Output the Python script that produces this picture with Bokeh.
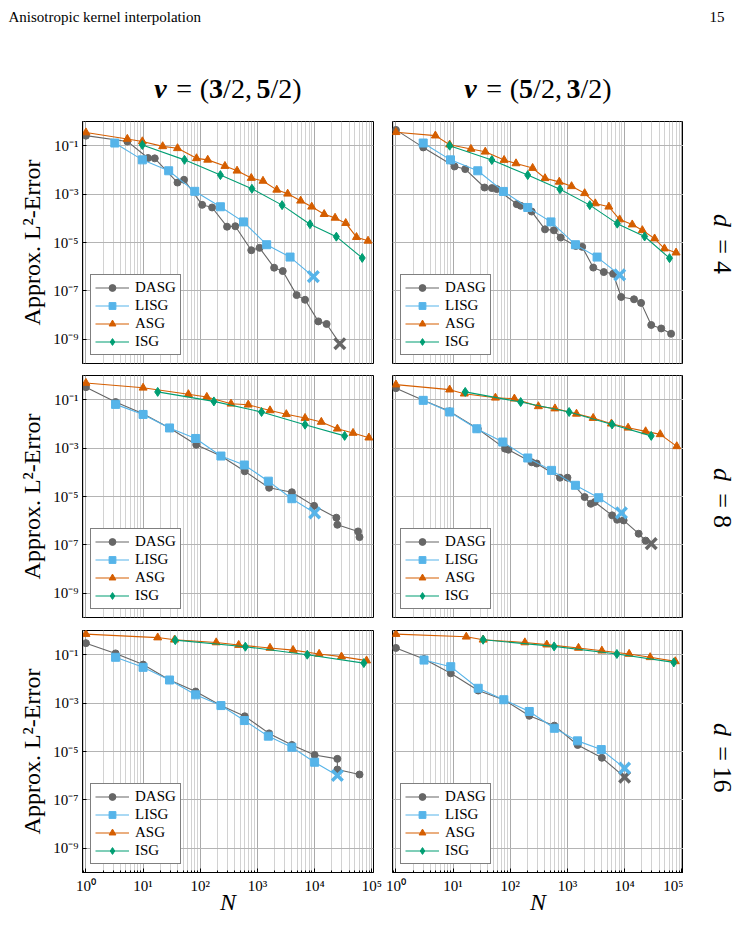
import math
from bokeh.plotting import figure
from bokeh.models import (FixedTicker, CustomJSTickFormatter, Label, Legend,
                          LegendItem, Range1d)
from bokeh.layouts import column, row
from bokeh.embed import file_html
from bokeh.resources import INLINE

# ---------------- data ----------------
SERIES = ["DASG", "LISG", "ASG", "ISG"]
TITLES = [("3", "5"), ("5", "3")]
ROW_LABELS = ["4", "8", "16"]
X_TICKS = [1, 10, 100, 1000, 10000, 100000]
Y_TICKS = [1e-1, 1e-3, 1e-5, 1e-7, 1e-9]

# d = 4, nu = (3/2, 5/2)
d4a_dasg_n = [1, 5.3, 12.2, 16, 40, 52, 108, 161, 294, 410, 780, 1090, 1960, 2770, 4850, 6800, 11600, 16200, 27600]
d4a_dasg_e = [0.26, 0.15, 0.031, 0.030, 0.0030, 0.0039, 3.6e-4, 2.8e-4, 4.5e-5, 4.7e-5, 4.8e-6, 6.0e-6, 9.1e-7, 6.6e-7, 6.7e-8, 4.3e-8, 5.5e-9, 4.3e-9, 6.6e-10]
d4a_lisg_n = [3.2, 9.7, 28, 80, 225, 570, 1450, 3720, 9500]
d4a_lisg_e = [0.129, 0.026, 0.0092, 0.0013, 3.0e-4, 7.1e-5, 8.1e-6, 2.5e-6, 3.9e-7]
d4a_asg_n = [1, 5.3, 9.7, 22, 40, 86, 135, 270, 440, 780, 1250, 2180, 3380, 5700, 8900, 14700, 22800, 35000, 54000, 86000]
d4a_asg_e = [0.35, 0.19, 0.15, 0.094, 0.078, 0.030, 0.026, 0.0144, 0.0092, 0.0046, 0.0035, 0.0015, 0.00103, 5.3e-4, 3.0e-4, 1.48e-4, 1.04e-4, 6.3e-5, 1.66e-5, 1.17e-5]
d4a_isg_n = [9.7, 53, 225, 800, 2700, 8300, 24000, 68000]
d4a_isg_e = [0.107, 0.026, 0.0061, 0.00166, 3.5e-4, 5.7e-5, 1.74e-5, 2.3e-6]

# d = 4, nu = (5/2, 3/2)
d4b_dasg_n = [1, 3.0, 10.6, 16.3, 35.5, 47.6, 58, 130, 152, 237, 405, 580, 760, 1400, 1810, 2830, 4320, 6300, 8720, 14600, 19400, 29200, 43700, 65000]
d4b_dasg_e = [0.45, 0.085, 0.0139, 0.0108, 0.00187, 0.00177, 0.00161, 3.85e-4, 3.3e-4, 1.9e-4, 3.5e-5, 3.2e-5, 1.6e-5, 7.2e-6, 6.6e-6, 9.2e-7, 6.0e-7, 5.1e-7, 5.6e-8, 4.5e-8, 3.2e-8, 3.9e-9, 2.8e-9, 1.7e-9]
d4b_lisg_n = [3.0, 9.0, 27, 76, 202, 515, 1380, 3300, 8200]
d4b_lisg_e = [0.129, 0.026, 0.0092, 0.00129, 2.8e-4, 7.1e-5, 8.1e-6, 2.5e-6, 4.6e-7]
d4b_asg_n = [1, 4.9, 8.7, 20.5, 36.5, 78, 126, 246, 405, 720, 1180, 2000, 3070, 5300, 8200, 13600, 20400, 33500, 49700, 79500]
d4b_asg_e = [0.36, 0.26, 0.11, 0.073, 0.056, 0.0255, 0.0185, 0.0119, 0.0045, 0.0032, 0.0021, 0.00108, 4.1e-4, 3.0e-4, 8.9e-5, 5.5e-5, 3.2e-5, 1.45e-5, 5.6e-6, 3.8e-6]
d4b_isg_n = [8.7, 47.6, 202, 740, 2460, 7440, 22400, 61000]
d4b_isg_e = [0.1, 0.0255, 0.0061, 0.0016, 3.5e-4, 6.0e-5, 1.77e-5, 2.25e-6]

# d = 8, nu = (3/2, 5/2)
d8a_dasg_n = [1, 3.3, 10, 29, 85, 230, 600, 1600, 4000, 9800, 24000, 25000, 57500, 61000]
d8a_dasg_e = [0.33, 0.080, 0.026, 0.0068, 0.00138, 4.7e-4, 1.1e-4, 2.3e-5, 1.5e-5, 4.1e-6, 1.33e-6, 6.8e-7, 3.6e-7, 2.1e-7]
d8a_lisg_n = [3.3, 10, 29, 83, 230, 590, 1550, 4000, 10000]
d8a_lisg_e = [0.064, 0.0246, 0.0068, 0.0025, 4.7e-4, 2.0e-4, 4.3e-5, 8.1e-6, 2.1e-6]
d8a_asg_n = [1, 10, 62, 130, 345, 690, 1660, 3200, 6800, 13100, 25000, 47000, 89000]
d8a_asg_e = [0.49, 0.31, 0.167, 0.129, 0.068, 0.062, 0.036, 0.025, 0.0174, 0.012, 0.0063, 0.0042, 0.0027]
d8a_isg_n = [18, 173, 1180, 6800, 33500]
d8a_isg_e = [0.21, 0.085, 0.031, 0.0093, 0.0032]

# d = 8, nu = (5/2, 3/2)
d8b_dasg_n = [1, 3.0, 8.7, 27, 81, 93, 237, 290, 740, 1000, 2000, 2560, 3000, 6040, 7400, 9600, 17600, 23300, 29200]
d8b_dasg_e = [0.30, 0.094, 0.033, 0.0063, 9.5e-4, 8.6e-4, 2.6e-4, 2.3e-4, 6.0e-5, 6.0e-5, 9.5e-6, 5.0e-6, 5.9e-6, 1.66e-6, 1.1e-6, 1.03e-6, 2.9e-7, 1.5e-7, 1.13e-7]
d8b_lisg_n = [3.0, 8.7, 26, 74, 202, 527, 1380, 3520, 8800]
d8b_lisg_e = [0.094, 0.031, 0.0063, 0.00178, 3.9e-4, 1.2e-4, 2.9e-5, 8.9e-6, 2.1e-6]
d8b_asg_n = [1, 8.7, 15.7, 55, 118, 310, 605, 1440, 2820, 5880, 11500, 23300, 42000, 81700]
d8b_asg_e = [0.42, 0.26, 0.177, 0.12, 0.11, 0.053, 0.043, 0.026, 0.0174, 0.0102, 0.0069, 0.0049, 0.0037, 0.00118]
d8b_isg_n = [16.3, 152, 1070, 6040, 29200]
d8b_isg_e = [0.21, 0.080, 0.031, 0.0095, 0.0032]

# d = 16, nu = (3/2, 5/2)
d16a_dasg_n = [1, 3.3, 10, 29, 83, 230, 600, 1600, 4000, 10000, 25000, 25000, 61000]
d16a_dasg_e = [0.30, 0.113, 0.039, 0.009, 0.0030, 7.9e-4, 2.85e-4, 5.6e-5, 1.86e-5, 7.2e-6, 4.96e-6, 1.8e-6, 1.12e-6]
d16a_lisg_n = [3.3, 10, 29, 83, 230, 590, 1550, 4000, 10000, 25000]
d16a_lisg_e = [0.078, 0.030, 0.009, 0.0022, 7.9e-4, 1.9e-4, 4.3e-5, 1.5e-5, 3.6e-6, 1.02e-6]
d16a_asg_n = [1, 18, 35.5, 190, 470, 1660, 4200, 12000, 29500, 81000]
d16a_asg_e = [0.71, 0.51, 0.415, 0.32, 0.25, 0.19, 0.155, 0.107, 0.083, 0.057]
d16a_isg_n = [36.5, 615, 7440, 72600]
d16a_isg_e = [0.40, 0.214, 0.10, 0.045]

# d = 16, nu = (5/2, 3/2)
d16b_dasg_n = [1, 3.1, 9.1, 27.5, 78.5, 215, 590, 1510, 4000, 10000]
d16b_dasg_e = [0.19, 0.066, 0.017, 0.0033, 0.00134, 3.0e-4, 1.17e-4, 1.86e-5, 5.5e-6, 8.7e-7]
d16b_lisg_n = [3.1, 9.1, 27.5, 77, 215, 590, 1500, 3900, 10000]
d16b_lisg_e = [0.060, 0.032, 0.0041, 0.00138, 4.5e-4, 9.1e-5, 2.75e-5, 1.2e-5, 2.05e-6]
d16b_asg_n = [1, 17, 33.5, 180, 435, 1560, 4000, 12000, 28000, 77000]
d16b_asg_e = [0.71, 0.55, 0.415, 0.32, 0.26, 0.19, 0.146, 0.107, 0.078, 0.053]
d16b_isg_n = [33.5, 585, 7330, 72600]
d16b_isg_e = [0.415, 0.22, 0.107, 0.048]

# series that end with a cross marker, per panel
d4a_ends = ["DASG", "LISG"]
d4b_ends = ["LISG"]
d8a_ends = ["LISG"]
d8b_ends = ["DASG", "LISG"]
d16a_ends = ["LISG"]
d16b_ends = ["DASG", "LISG"]

PANELS = [
    [({"DASG": (d4a_dasg_n, d4a_dasg_e), "LISG": (d4a_lisg_n, d4a_lisg_e),
       "ASG": (d4a_asg_n, d4a_asg_e), "ISG": (d4a_isg_n, d4a_isg_e)}, d4a_ends),
     ({"DASG": (d4b_dasg_n, d4b_dasg_e), "LISG": (d4b_lisg_n, d4b_lisg_e),
       "ASG": (d4b_asg_n, d4b_asg_e), "ISG": (d4b_isg_n, d4b_isg_e)}, d4b_ends)],
    [({"DASG": (d8a_dasg_n, d8a_dasg_e), "LISG": (d8a_lisg_n, d8a_lisg_e),
       "ASG": (d8a_asg_n, d8a_asg_e), "ISG": (d8a_isg_n, d8a_isg_e)}, d8a_ends),
     ({"DASG": (d8b_dasg_n, d8b_dasg_e), "LISG": (d8b_lisg_n, d8b_lisg_e),
       "ASG": (d8b_asg_n, d8b_asg_e), "ISG": (d8b_isg_n, d8b_isg_e)}, d8b_ends)],
    [({"DASG": (d16a_dasg_n, d16a_dasg_e), "LISG": (d16a_lisg_n, d16a_lisg_e),
       "ASG": (d16a_asg_n, d16a_asg_e), "ISG": (d16a_isg_n, d16a_isg_e)}, d16a_ends),
     ({"DASG": (d16b_dasg_n, d16b_dasg_e), "LISG": (d16b_lisg_n, d16b_lisg_e),
       "ASG": (d16b_asg_n, d16b_asg_e), "ISG": (d16b_isg_n, d16b_isg_e)}, d16b_ends)],
]

# ---------------- styling ----------------
FONT = "Liberation Serif"
COLORS = {"DASG": "#666666", "LISG": "#56B4E9", "ASG": "#D55E00", "ISG": "#009E73"}
MARKERS = {"DASG": ("circle", 7), "LISG": ("square", 8),
           "ASG": ("triangle", 8), "ISG": ("diamond", 9)}
X_MIN, X_MAX = 10 ** -0.06, 10 ** 5.03
Y_MIN, Y_MAX = 1e-10, 1.0
X_MINOR = [m * 10 ** k for k in range(-1, 6) for m in range(2, 10)]
FW, FH = 291, 242
W, H = 737, 942
HEAD_H = 121
LEFT_B, GAP_L, GAP_R = 82, 10, 9
RIGHT_EDGE = LEFT_B + FW + GAP_L + GAP_R + FW  # 683

SUP_JS = """
const sup = {"-":"\u207b","0":"\u2070","1":"\u00b9","2":"\u00b2","3":"\u00b3","4":"\u2074",
             "5":"\u2075","6":"\u2076","7":"\u2077","8":"\u2078","9":"\u2079"};
const e = Math.round(Math.log10(tick));
return "10" + String(e).split("").map(c => sup[c]).join("");
"""

TOP_B = [0, 6, 7]
BOT_B = [6, 6, 70]


def add_label(p, text, x, y, size, style="normal", align="left",
              baseline="alphabetic", angle=0.0):
    p.add_layout(Label(x=x, y=y, text=text,
                       text_font=FONT, text_font_size=f"{size}px",
                       text_font_style=style, text_align=align,
                       text_baseline=baseline, angle=angle,
                       text_color="black"))


def blank(width, height, x0, x1, y0, y1):
    p = figure(width=width, height=height, x_range=Range1d(x0, x1),
               y_range=Range1d(y0, y1), min_border=0, title=None,
               x_axis_location=None, y_axis_location=None,
               output_backend="svg", toolbar_location=None)
    p.grid.visible = False
    p.outline_line_color = None
    p.background_fill_color = "white"
    p.border_fill_color = "white"
    return p


def make_panel(ri, ci):
    data, ends = PANELS[ri][ci]
    left = ci == 0
    bottom = ri == 2
    p = figure(x_axis_type="log", y_axis_type="log",
               x_range=Range1d(X_MIN, X_MAX), y_range=Range1d(Y_MIN, Y_MAX),
               frame_width=FW, frame_height=FH, title=None,
               output_backend="svg", toolbar_location=None,
               min_border_left=LEFT_B if left else GAP_R,
               min_border_right=GAP_L if left else 0,
               min_border_top=TOP_B[ri], min_border_bottom=BOT_B[ri])
    p.outline_line_color = "black"
    p.outline_line_width = 1
    p.background_fill_color = "white"
    p.border_fill_color = "white"

    xt = FixedTicker(ticks=X_TICKS, minor_ticks=X_MINOR)
    yt = FixedTicker(ticks=Y_TICKS, minor_ticks=[])
    p.xaxis.ticker = xt
    p.yaxis.ticker = yt
    p.xgrid.ticker = xt
    p.ygrid.ticker = yt
    p.xgrid.grid_line_color = "#aaaaaa"
    p.xgrid.minor_grid_line_color = "#d2d2d2"
    p.ygrid.grid_line_color = "#b4b4b4"

    for ax in (p.xaxis[0], p.yaxis[0]):
        ax.formatter = CustomJSTickFormatter(code=SUP_JS)
        ax.major_tick_in = 4
        ax.major_tick_out = 0
        ax.minor_tick_in = 2
        ax.minor_tick_out = 0
        ax.axis_line_color = "black"
        ax.major_label_text_font = FONT
        ax.major_label_text_font_size = "15px"
        ax.major_label_text_color = "black"
        ax.axis_label_text_font = FONT
        ax.axis_label_text_font_size = "24px"
        ax.axis_label_text_color = "black"
    p.xaxis.visible = bottom
    p.yaxis.visible = left
    if bottom:
        p.xaxis.axis_label = "N"
        p.xaxis.axis_label_text_font_style = "italic"
        p.xaxis.major_label_standoff = 5
        p.xaxis.axis_label_standoff = -8
    if left:
        p.yaxis.axis_label = "Approx. L\u00b2-Error"
        p.yaxis.axis_label_text_font_style = "normal"
        p.yaxis.major_label_standoff = 4
        p.yaxis.axis_label_standoff = 5

    items = []
    for name in SERIES:
        n, e = data[name]
        c = COLORS[name]
        r_line = p.line(n, e, line_color=c, line_width=1.1)
        cut = len(n) - 1 if name in ends else len(n)
        mk, sz = MARKERS[name]
        r_mk = p.scatter(n[:cut], e[:cut], marker=mk, size=sz,
                         fill_color=c, line_color=c)
        if name in ends:
            p.scatter(n[-1:], e[-1:], marker="x", size=15, line_width=3.5,
                      line_color=c)
        items.append(LegendItem(label=name, renderers=[r_line, r_mk]))
    legend = Legend(items=items, location="bottom_left", margin=8, padding=4,
                    spacing=1, glyph_width=34, glyph_height=17, label_height=17,
                    label_standoff=6, border_line_color="black",
                    border_line_width=1, background_fill_color="white",
                    background_fill_alpha=1.0, label_text_font=FONT,
                    label_text_font_size="15px", label_text_color="black")
    p.add_layout(legend)
    return p


# ---------------- header (page header + column titles) ----------------
head = blank(W, HEAD_H, 0, W, HEAD_H, 0)
add_label(head, "Anisotropic kernel interpolation", 8, 16, 15)
add_label(head, "15", 724, 16, 15, align="right")
TF = 28
for ci, (a, b) in enumerate(TITLES):
    cx = LEFT_B + FW / 2 + ci * (FW + GAP_L + GAP_R)
    pieces = [("\u03bd", "bold italic", 0.0), ("=", "normal", 0.78),
              ("(", "normal", 1.624), (a, "bold", 1.957),
              ("/2,", "normal", 2.457), (b, "bold", 3.652),
              ("/2)", "normal", 4.152)]
    x0 = cx - 5.263 * TF / 2
    for txt, st, off in pieces:
        add_label(head, txt, x0 + off * TF, 88, TF, style=st)

# ---------------- row labels on the right ----------------
side = blank(W - RIGHT_EDGE, H - HEAD_H, RIGHT_EDGE, W, H, HEAD_H)
ang = -math.pi / 2
row_tops = [HEAD_H, HEAD_H + FH + 6 + 6, HEAD_H + 2 * FH + 6 + 6 + 6 + 7]
for ri, num in enumerate(ROW_LABELS):
    cy = row_tops[ri] + FH / 2
    dy = [-22, 4, 25] if len(num) == 1 else [-22, 2, 28]
    add_label(side, "d", 722, cy + dy[0], 26, style="italic", align="center",
              baseline="middle", angle=ang)
    add_label(side, "=", 722, cy + dy[1], 26, align="center",
              baseline="middle", angle=ang)
    add_label(side, num, 722, cy + dy[2], 26, align="center",
              baseline="middle", angle=ang)

grid_rows = [row(make_panel(r, 0), make_panel(r, 1)) for r in range(3)]
layout = column(head, row(column(*grid_rows), side))

open("out.html", "w").write(file_html(layout, INLINE))
